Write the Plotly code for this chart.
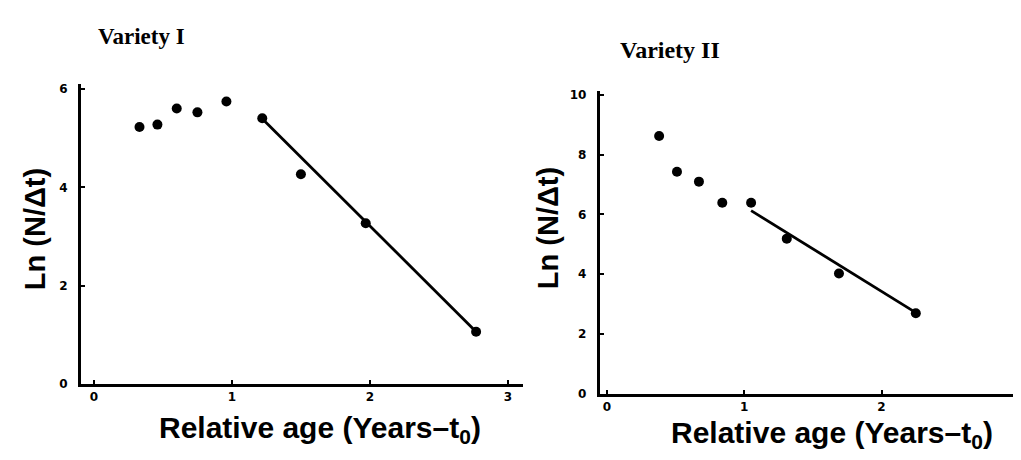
import plotly.graph_objects as go

# Variety I data
age1 = [0.33, 0.46, 0.60, 0.75, 0.96, 1.22, 1.50, 1.97, 2.77]
ln1 = [5.23, 5.28, 5.61, 5.53, 5.75, 5.41, 4.27, 3.27, 1.06]
fit1_x = [1.22, 2.77]
fit1_y = [5.40, 1.06]

# Variety II data
age2 = [0.38, 0.51, 0.67, 0.84, 1.05, 1.31, 1.69, 2.25]
ln2 = [8.63, 7.43, 7.10, 6.39, 6.39, 5.19, 4.02, 2.69]
fit2_x = [1.05, 2.25]
fit2_y = [6.13, 2.71]

xticks = [0, 1, 2, 3]
yticks1 = [0, 2, 4, 6]
yticks2 = [0, 2, 4, 6, 8, 10]

W, H = 1021, 460

fig = go.Figure()
mk = dict(color="black", size=10, symbol="circle")
fig.add_trace(go.Scatter(x=age1, y=ln1, mode="markers", marker=mk, xaxis="x", yaxis="y", showlegend=False))
fig.add_trace(go.Scatter(x=fit1_x, y=fit1_y, mode="lines", line=dict(color="black", width=2.8), xaxis="x", yaxis="y", showlegend=False))
fig.add_trace(go.Scatter(x=age2, y=ln2, mode="markers", marker=mk, xaxis="x2", yaxis="y2", showlegend=False))
fig.add_trace(go.Scatter(x=fit2_x, y=fit2_y, mode="lines", line=dict(color="black", width=2.8), xaxis="x2", yaxis="y2", showlegend=False))

tickfont = dict(family="DejaVu Sans", size=12, color="black", weight="bold")
axcommon = dict(showline=True, linecolor="black", linewidth=2.8, showgrid=False, zeroline=False,
                ticks="inside", ticklen=4, tickwidth=1.5, tickcolor="black", tickfont=tickfont)

fig.update_layout(
    width=W, height=H,
    margin=dict(l=0, r=0, t=0, b=0),
    paper_bgcolor="white", plot_bgcolor="white",
    xaxis=dict(domain=[73 / W, 515 / W], range=[-0.094, 3.11], tickvals=xticks, anchor="y", **axcommon),
    yaxis=dict(domain=[1 - 381 / H, 1 - 75 / H], range=[0, 6.1], tickvals=yticks1, anchor="x",
               ticklabelstandoff=8, **axcommon),
    xaxis2=dict(domain=[591.7 / W, 1019 / W], range=[-0.053, 3.06], tickvals=xticks, anchor="y2",
                ticklabeloverflow="allow", **axcommon),
    yaxis2=dict(domain=[1 - 391 / H, 1 - 82 / H], range=[0, 10.13], tickvals=yticks2, anchor="x2",
                ticklabelstandoff=8, **axcommon),
)

def ann(text, x, y, size, family, rot=0, weight="normal"):
    fig.add_annotation(text=text, x=x / W, y=1 - y / H, xref="paper", yref="paper",
                       showarrow=False, textangle=rot, xanchor="center", yanchor="middle",
                       font=dict(family=family, size=size, color="black", weight=weight))

serif = "Liberation Serif"
sans = "Liberation Sans"
ann("Variety I", 133, 26, 23, serif, weight="bold")
ann("Variety II", 662, 40, 24, serif, weight="bold")
ann("Ln (N/Δt)", 27, 223, 29, sans, rot=-90, weight="bold")
ann("Ln (N/Δt)", 540, 222, 29, sans, rot=-90, weight="bold")
ann("Relative age (Years–t<sub>0</sub>)", 312, 428, 30, sans, weight="bold")
ann("Relative age (Years–t<sub>0</sub>)", 824, 433, 30, sans, weight="bold")

fig.write_html("out.html")
